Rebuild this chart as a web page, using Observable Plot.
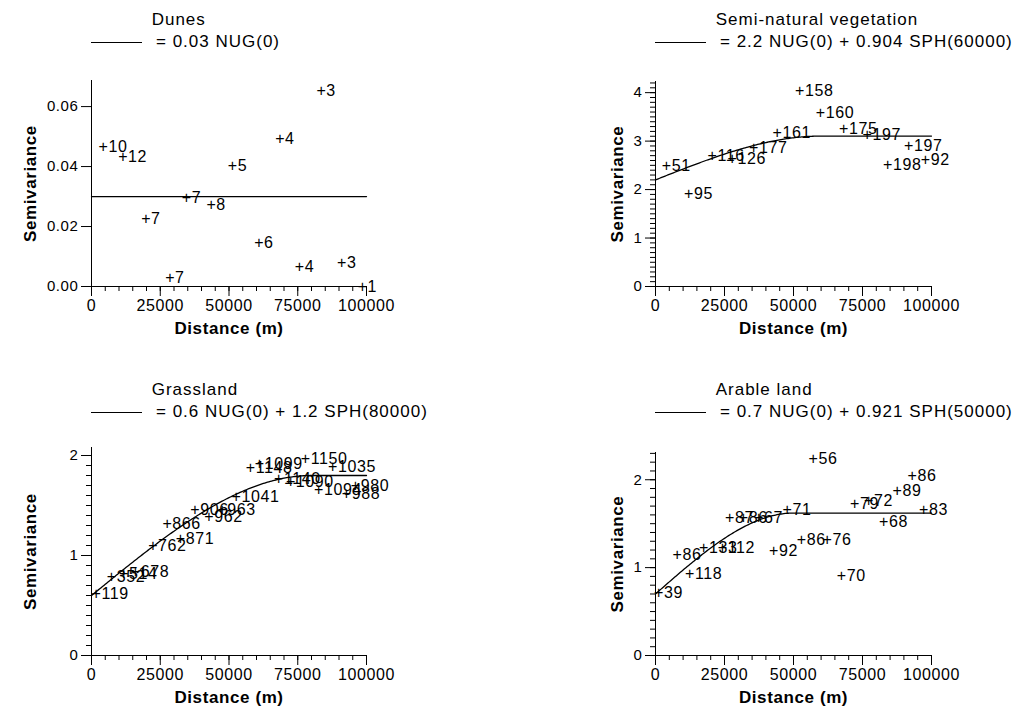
<!DOCTYPE html>
<html><head><meta charset="utf-8">
<script src="https://cdn.jsdelivr.net/npm/d3@7"></script>
<script src="https://cdn.jsdelivr.net/npm/@observablehq/plot@0.6"></script>
<style>
body{margin:0;background:#fff;}
#root{position:relative;width:1018px;height:720px;font-family:"Liberation Sans",Arial,sans-serif;color:#000;overflow:hidden;background:#fff;}
.t{position:absolute;font-size:17px;line-height:20px;letter-spacing:1px;white-space:nowrap;}
.sw{position:absolute;height:0;border-top:1.3px solid #000;}
.p{position:absolute;}
</style></head><body><div id="root"></div>
<script>
// ---- chart text ----
const panelNames = ["Dunes", "Semi-natural vegetation", "Grassland", "Arable land"];
const modelText = ["= 0.03 NUG(0)", "= 2.2 NUG(0) + 0.904 SPH(60000)", "= 0.6 NUG(0) + 1.2 SPH(80000)", "= 0.7 NUG(0) + 0.921 SPH(50000)"];
const xLabel = "Distance (m)";
const yLabel = "Semivariance";
// ---- fitted model parameters (from legend) ----
const nugget = [0.03, 2.2, 0.6, 0.7];
const sill = [0, 0.904, 1.2, 0.921];
const modelRange = [1, 60000, 80000, 50000];
// ---- axes ----
const yMax = [0.0687, 4.23, 2.08, 2.31];
const yMajor = [[0, 0.02, 0.04, 0.06], [0, 1, 2, 3, 4], [0, 1, 2], [0, 1, 2]];
const yMinorStep = [0, 0.1, 0.1, 0.1];
const yFormat = [".2f", "d", "d", "d"];
const xMajor = [0, 25000, 50000, 75000, 100000];
const xMinor = [0,5000,10000,15000,20000,25000,30000,35000,40000,45000,50000,55000,60000,65000,70000,75000,80000,85000,90000,95000,100000];
// ---- empirical variograms: lag, semivariance, number of pairs ----
const dunesLag   = [4250, 11400, 19760, 28500, 34550, 43500, 51270, 60850, 68500, 75640, 83500, 91000, 98500];
const dunesGamma = [0.0464, 0.0431, 0.0226, 0.0029, 0.0294, 0.0273, 0.0401, 0.0144, 0.0491, 0.0067, 0.0653, 0.0078, 0.0];
const dunesPairs = [10, 12, 7, 7, 7, 8, 5, 6, 4, 4, 3, 3, 1];

const seminatLag   = [3990, 12070, 20540, 27800, 35600, 44080, 52290, 59780, 68230, 76690, 84170, 91780, 97830];
const seminatGamma = [2.48, 1.92, 2.70, 2.63, 2.86, 3.17, 4.04, 3.59, 3.26, 3.13, 2.50, 2.91, 2.61];
const seminatPairs = [51, 95, 116, 126, 177, 161, 158, 160, 175, 197, 198, 197, 92];

const grassLag   = [1700, 7270, 11750, 16000, 22300, 27500, 32360, 37600, 42700, 47500, 52600, 57800, 61100, 68100, 72400, 77800, 82650, 87750, 92700, 96000];
const grassGamma = [0.617, 0.783, 0.817, 0.833, 1.10, 1.317, 1.17, 1.46, 1.383, 1.46, 1.59, 1.88, 1.92, 1.767, 1.733, 1.97, 1.657, 1.89, 1.617, 1.70];
const grassPairs = [119, 352, 514, 678, 762, 866, 871, 906, 962, 963, 1041, 1148, 1099, 1140, 1090, 1150, 1094, 1035, 988, 980];

const arableLag   = [1200, 7850, 12430, 17500, 24300, 26900, 31900, 37400, 42870, 47700, 52900, 57140, 62200, 67390, 72210, 77290, 82720, 87570, 93000, 97200];
const arableGamma = [0.712, 1.144, 0.928, 1.22, 1.23, 1.565, 1.565, 1.565, 1.185, 1.655, 1.315, 2.24, 1.315, 0.909, 1.73, 1.76, 1.515, 1.875, 2.04, 1.66];
const arablePairs = [39, 86, 118, 133, 112, 87, 86, 67, 92, 71, 86, 56, 76, 70, 79, 72, 68, 89, 86, 83];

const lags = [dunesLag, seminatLag, grassLag, arableLag];
const gammas = [dunesGamma, seminatGamma, grassGamma, arableGamma];
const pairs = [dunesPairs, seminatPairs, grassPairs, arablePairs];

// ---- layout (page pixels) ----
const layout = [
  {left: 0,   top: 60,  width: 509, height: 300, mt: 20, mb: 74, ml: 91,  mr: 143, ylab: -61, ty: 10},
  {left: 509, top: 60,  width: 509, height: 300, mt: 21, mb: 74, ml: 146, mr: 87,  ylab: -38, ty: 10},
  {left: 0,   top: 425, width: 509, height: 295, mt: 22, mb: 65, ml: 91,  mr: 143, ylab: -61, ty: 380},
  {left: 509, top: 425, width: 509, height: 295, mt: 27, mb: 65, ml: 146, mr: 87,  ylab: -38, ty: 380}
];

function model(i, h) {
  const a = modelRange[i];
  if (sill[i] === 0) return nugget[i];
  return h < a ? nugget[i] + sill[i] * (1.5 * h / a - 0.5 * Math.pow(h / a, 3)) : nugget[i] + sill[i];
}

const root = document.getElementById("root");
for (let i = 0; i < 4; i++) {
  const L = layout[i];
  const pts = lags[i].map((x, k) => ({lag: x, gamma: gammas[i][k], n: pairs[i][k]}));
  const curve = d3.range(0, 100001, 500).map(h => ({h, g: model(i, h)}));
  const yMinor = yMinorStep[i] ? d3.range(0, Math.round(yMax[i] / yMinorStep[i]) + 1).map(k => +(k * yMinorStep[i]).toFixed(2)).filter(v => v <= yMax[i]) : [];
  const marks = [
    Plot.ruleX([0], {stroke: "#000"}),
    Plot.ruleY([0], {stroke: "#000"}),
    Plot.axisX({ticks: xMinor, tickSize: 5, tickFormat: () => "", label: null}),
    Plot.axisX({ticks: xMajor, tickSize: 10, tickPadding: 3, tickFormat: d3.format("d"), label: null, fontSize: 16}),
    Plot.axisY({ticks: yMajor[i], tickSize: 10, tickPadding: 3, tickFormat: d3.format(yFormat[i]), label: null, fontSize: 15})
  ];
  if (yMinor.length) marks.push(Plot.axisY({ticks: yMinor, tickSize: 5, tickFormat: () => "", label: null}));
  marks.push(
    Plot.line(curve, {x: "h", y: "g", stroke: "#000", strokeWidth: 1.3}),
    Plot.text(pts, {x: "lag", y: "gamma", text: d => "+" + d.n, textAnchor: "start", lineAnchor: "middle", dx: -4.7, fontSize: 16}),
    Plot.text([xLabel], {frameAnchor: "bottom", dy: 42, text: d => d, textAnchor: "middle", lineAnchor: "middle", fontWeight: "bold", fontSize: 17}),
    Plot.text([yLabel], {frameAnchor: "left", dx: L.ylab, rotate: -90, text: d => d, textAnchor: "middle", lineAnchor: "middle", fontWeight: "bold", fontSize: 17})
  );
  const svg = Plot.plot({
    width: L.width, height: L.height,
    marginTop: L.mt, marginBottom: L.mb, marginLeft: L.ml, marginRight: L.mr,
    x: {domain: [0, 100000]},
    y: {domain: [0, yMax[i]]},
    style: {fontFamily: "'Liberation Sans', Arial, sans-serif", fontSize: "16px", letterSpacing: "0.6px", background: "transparent", color: "#000", overflow: "visible"},
    marks
  });
  svg.classList.add("p");
  svg.style.left = L.left + "px";
  svg.style.top = L.top + "px";
  root.appendChild(svg);

  const ax = L.left + L.ml;
  const title = document.createElement("div");
  title.className = "t"; title.textContent = panelNames[i];
  title.style.left = (ax + 60.7) + "px"; title.style.top = L.ty + "px";
  root.appendChild(title);
  const sw = document.createElement("div");
  sw.className = "sw"; sw.style.left = ax + "px"; sw.style.width = "51px"; sw.style.top = (L.ty + 32) + "px";
  root.appendChild(sw);
  const f = document.createElement("div");
  f.className = "t"; f.textContent = modelText[i];
  f.style.left = (ax + 65) + "px"; f.style.top = (L.ty + 22) + "px";
  root.appendChild(f);
}
</script></body></html>
